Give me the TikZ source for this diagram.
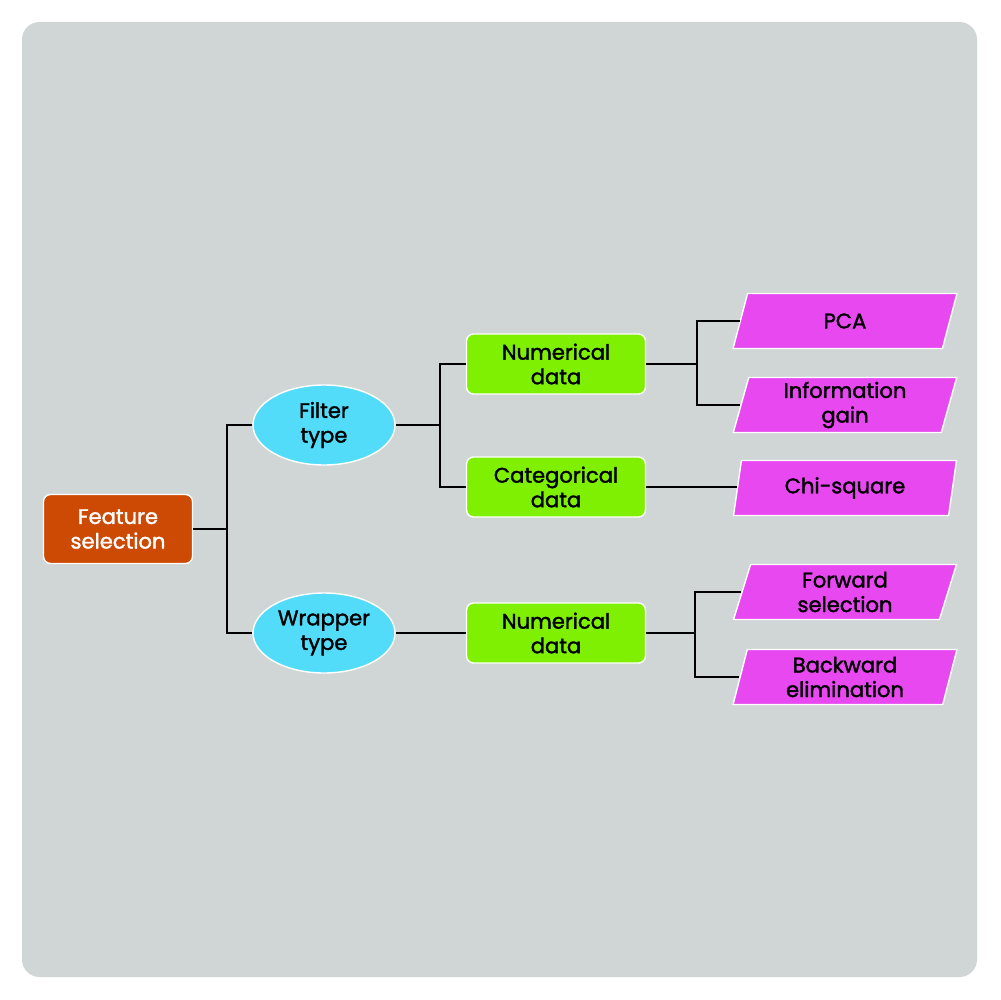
\documentclass[tikz,border=0pt]{standalone}
\usepackage{fontspec}
\setmainfont{Poppins}[BoldFont=Poppins, BoldFeatures={FakeBold=1.6}]
\usetikzlibrary{shapes.geometric}
\definecolor{rust}{RGB}{204, 74, 4}
\definecolor{sky}{RGB}{82, 220, 250}
\definecolor{lime}{RGB}{128, 240, 2}
\definecolor{orchid}{RGB}{232, 72, 240}
\definecolor{slate}{RGB}{208, 214, 214}

\tikzset{
    rootbox/.style={draw=white, thick, fill=rust, text=white, rounded corners=4pt,
        minimum width=2.98cm, minimum height=1.38cm, align=center},
    typebox/.style={draw=white, thick, fill=sky, ellipse, minimum width=2.84cm,
        minimum height=1.6cm, align=center, inner sep=0pt},
    databox/.style={draw=white, thick, fill=lime, rounded corners=4pt,
        minimum width=3.58cm, minimum height=1.2cm, align=center},
    methodbox/.style={draw=white, thick, fill=orchid, trapezium, trapezium left angle=78,
        trapezium right angle=102, trapezium stretches=true,
        minimum width=4.48cm, minimum height=1.1cm, align=center, inner sep=0pt},
    link/.style={black, thick}
}

\begin{document}
\begin{tikzpicture}[x=0.02cm, y=-0.02cm, font=\large\bfseries]
            % Background
            \useasboundingbox (0,0) rectangle (1000,1000);
            \fill[white] (0,0) rectangle (1000,1000);
            \fill[slate, rounded corners=10pt] (22,22) rectangle (977,977);
            % Nodes
            \node[rootbox]   (feature) at (118,529) {Feature\\selection};
            \node[typebox]   (filter)  at (324,425) {Filter\\type};
            \node[typebox]   (wrapper) at (324,633) {Wrapper\\type};
            \node[databox]   (num)     at (556,364) {Numerical\\data};
            \node[databox]   (cat)     at (556,487) {Categorical\\data};
            \node[databox]   (wnum)    at (556,633) {Numerical\\data};
            \node[methodbox] (pca)     at (845,321) {PCA};
            \node[methodbox] (info)    at (845,405) {Information\\gain};
            \node[methodbox] (chi)     at (845,488) {Chi-square};
            \node[methodbox] (fwd)     at (845,592) {Forward\\selection};
            \node[methodbox] (bwd)     at (845,677) {Backward\\elimination};
            % Connectors
            \draw[link] (feature.east) -- (227,529);
            \draw[link] (filter.west) -| (227,529) |- (wrapper.west);
            \draw[link] (filter.east) -- (440,425);
            \draw[link] (num.west) -| (440,425) |- (cat.west);
            \draw[link] (num.east) -- (697,364);
            \draw[link] (pca.west) -| (697,364) |- (info.west);
            \draw[link] (cat.east) -- (cat.east -| chi.west);
            \draw[link] (wrapper.east) -- (wnum.west);
            \draw[link] (wnum.east) -- (695,633);
            \draw[link] (fwd.west) -| (695,633) |- (bwd.west);
        \end{tikzpicture}
\end{document}
